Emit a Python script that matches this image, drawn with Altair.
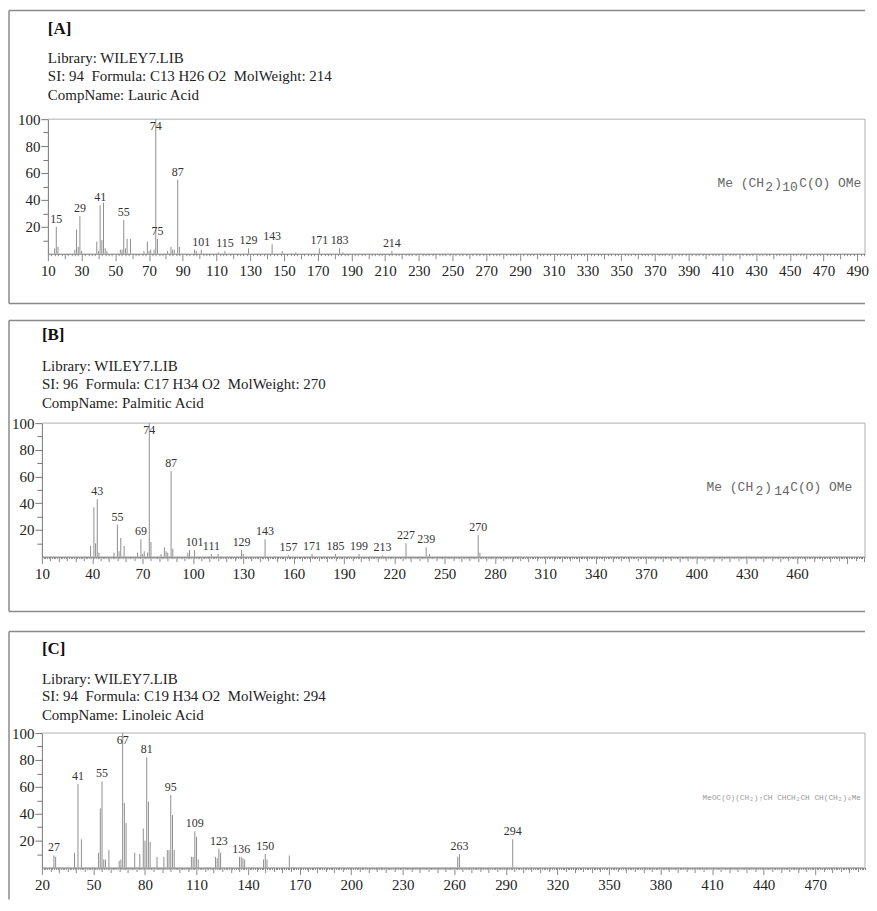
import altair as alt
import pandas as pd

# ---------------- data ----------------
A_MZ = [14, 15, 16, 26, 27, 28, 29, 30, 39, 40, 41, 42, 43, 44, 45, 53, 54, 55, 56, 57, 59,
        67, 69, 70, 71, 73, 74, 75, 81, 83, 84, 85, 87, 88, 97, 98, 101, 111, 115, 129, 143,
        149, 157, 171, 183, 185, 214]
A_INT = [4, 20, 5, 3, 18, 5, 28, 2, 9, 2, 36, 10, 38, 4, 2, 3, 3, 25, 4, 11, 11,
         2, 9, 2, 3, 3, 100, 11, 2, 5, 3, 3, 55, 5, 3, 2, 3, 1, 2, 4, 7,
         2, 1, 4, 4, 1, 2]
A_LABELS = [15, 29, 41, 55, 74, 75, 87, 101, 115, 129, 143, 171, 183, 214]

B_MZ = [39, 41, 42, 43, 44, 53, 55, 56, 57, 59, 67, 69, 70, 71, 73, 74, 75, 81, 83, 84, 85,
        87, 88, 97, 98, 101, 111, 115, 129, 130, 143, 157, 171, 185, 199, 213, 227, 239, 241,
        270, 271]
B_INT = [8, 37, 10, 43, 3, 3, 24, 4, 14, 8, 3, 13, 2, 4, 3, 100, 11, 2, 7, 4, 3,
         64, 6, 3, 5, 5, 2, 2, 5, 2, 13, 1, 2, 2, 2, 1, 10, 7, 2,
         16, 3]
B_LABELS = [43, 55, 69, 74, 87, 101, 111, 129, 143, 157, 171, 185, 199, 213, 227, 239, 270]

C_MZ = [27, 28, 39, 41, 43, 53, 54, 55, 56, 57, 59, 65, 66, 67, 68, 69, 74, 77, 79, 80, 81,
        82, 83, 87, 91, 93, 94, 95, 96, 97, 107, 108, 109, 110, 111, 121, 122, 123, 124,
        135, 136, 137, 138, 149, 150, 151, 164, 262, 263, 294]
C_INT = [9, 8, 11, 62, 21, 11, 44, 64, 6, 6, 13, 5, 6, 100, 48, 33, 11, 10, 29, 20, 82,
         49, 19, 8, 8, 13, 13, 54, 39, 13, 8, 8, 27, 23, 6, 8, 7, 14, 11,
         8, 8, 7, 6, 6, 10, 6, 9, 8, 10, 21]
C_LABELS = [27, 41, 55, 67, 81, 95, 109, 123, 136, 150, 263, 294]

HEAD_A = ["[A]", "Library: WILEY7.LIB",
          "SI: 94\u00a0 Formula: C13 H26 O2\u00a0 MolWeight: 214", "CompName: Lauric Acid"]
HEAD_B = ["[B]", "Library: WILEY7.LIB",
          "SI: 96\u00a0 Formula: C17 H34 O2\u00a0 MolWeight: 270", "CompName: Palmitic Acid"]
HEAD_C = ["[C]", "Library: WILEY7.LIB",
          "SI: 94\u00a0 Formula: C19 H34 O2\u00a0 MolWeight: 294", "CompName: Linoleic Acid"]

# ---------------- helpers ----------------
SERIF = "Liberation Serif"
MONO = "Liberation Mono"
W = 826
ONE = alt.InlineData(values=[{}])


def txt(t, x, y, size, font=SERIF, weight="normal", color="#222"):
    return alt.Chart(ONE).mark_text(
        text=t, align="left", baseline="middle", font=font, fontSize=size,
        fontWeight=weight, color=color
    ).encode(x=alt.value(x), y=alt.value(y))


def hline(x1, x2, y, color, w):
    return alt.Chart(ONE).mark_rule(color=color, strokeWidth=w).encode(
        x=alt.value(x1), x2=alt.value(x2), y=alt.value(y))


def vline(x, y1, y2, color, w):
    return alt.Chart(ONE).mark_rule(color=color, strokeWidth=w).encode(
        x=alt.value(x), y=alt.value(y1), y2=alt.value(y2))


def panel(mz, inten, labels, dom, xrange, h, yrange, xvals, label_test, tick_conds,
          yoff, frame, closed, heads, head_x, head_y, formula, fsize, fcolor):
    df = pd.DataFrame({"mz": mz, "i": inten})
    xscale = alt.Scale(domain=dom, range=xrange, nice=False, zero=False)
    yscale = alt.Scale(domain=[0, 100], range=yrange, nice=False, zero=False)
    xaxis = alt.Axis(
        values=xvals, labelExpr=f"{label_test} ? datum.label : ''",
        tickSize={"condition": tick_conds, "value": 2},
        labelFlush=False, labelOverlap=False, grid=False, title=None,
        labelFont=SERIF, labelFontSize=15, labelColor="#222",
        tickColor="#8a8a8a", domainColor="#777", labelPadding=3)
    yaxis = alt.Axis(
        values=list(range(10, 101, 10)),
        labelExpr="datum.value % 20 == 0 ? datum.label : ''",
        tickSize={"condition": {"test": "datum.value % 20 == 0", "value": 7}, "value": 5},
        grid=False, title=None, labelFont=SERIF, labelFontSize=15, labelColor="#222",
        tickColor="#777", domainColor="#777", labelPadding=1, offset=yoff)
    bars = alt.Chart(df).mark_rule(color="#8f8f8f", strokeWidth=1).encode(
        x=alt.X("mz:Q", scale=xscale, axis=xaxis),
        y=alt.Y("i:Q", scale=yscale, axis=yaxis),
        y2=alt.datum(0))
    labs = alt.Chart(df).transform_filter(
        alt.FieldOneOfPredicate(field="mz", oneOf=labels)
    ).transform_calculate(ly="min(datum.i, 89)").mark_text(
        dy=-8, font=SERIF, fontSize=12, color="#333"
    ).encode(x=alt.X("mz:Q", scale=xscale, axis=xaxis),
             y=alt.Y("ly:Q", scale=yscale, axis=yaxis), text="mz:Q")

    fl, ft, fr, fb = frame
    layers = [hline(fl, fr, ft, "#8a8a8a", 1.5), vline(fl, ft, fb, "#8a8a8a", 1.5)]
    if closed:
        layers.append(hline(fl, fr, fb, "#8a8a8a", 1.5))
    top = yrange[1]
    layers += [hline(xrange[0], xrange[1], top, "#b0b0b0", 1),
               vline(xrange[1], top, yrange[0], "#b0b0b0", 1)]
    layers += [bars, labs]
    layers.append(txt(heads[0], head_x, head_y[0], 17, weight="bold", color="#111"))
    for t, y in zip(heads[1:], head_y[1:]):
        layers.append(txt(t, head_x, y, 15))
    for t, x, y in formula:
        layers.append(txt(t, x, y, fsize, font=MONO, color=fcolor))
    return alt.layer(*layers).properties(width=W, height=h)


def cond(*pairs):
    return [{"test": t, "value": v} for t, v in pairs]


pA = panel(A_MZ, A_INT, A_LABELS, [10, 494.6], [6, 826], 135, [135, 0],
           list(range(10, 495, 2)), "datum.value % 20 == 10",
           cond(("datum.value % 20 == 10", 7), ("datum.value % 10 == 0", 5)),
           -6, (-33, -109, 826, 185), True, HEAD_A, 6, [-90, -61, -43, -24],
           [("Me (CH", 678, 64), ("2", 726, 68), (")", 735, 64), ("10", 743, 68),
            ("C(O) OMe", 760, 64)], 13, "#666")

pB = panel(B_MZ, B_INT, B_LABELS, [10, 500.5], [0, 826], 134, [134, 0],
           list(range(10, 501, 1)), "(datum.value - 10) % 30 == 0 && datum.value <= 460",
           cond(("(datum.value - 10) % 30 == 0", 7), ("datum.value % 10 == 0", 5),
                ("datum.value % 5 == 0", 4)),
           0, (-33, -103, 826, 189), True, HEAD_B, 0, [-88, -57, -39, -20],
           [("Me (CH", 667, 64), ("2", 716, 68), (")", 725, 64), ("14", 735, 68),
            ("C(O) OMe", 751, 64)], 13, "#666")

pC = panel(C_MZ, C_INT, C_LABELS, [20, 499], [0, 826], 142, [142, 7],
           list(range(20, 500, 1)), "(datum.value - 20) % 30 == 0",
           cond(("(datum.value - 20) % 30 == 0", 7), ("datum.value % 10 == 0", 5),
                ("datum.value % 5 == 0", 4)),
           0, (-33, -95, 826, 174), False, HEAD_C, 0, [-77, -47, -30, -11],
           [("MeOC(O)(CH\u2082)\u2087CH CHCH\u2082CH CH(CH\u2082)\u2084Me", 663, 72)], 7.8, "#9a9a9a")

chart = alt.vconcat(pA, pB, pC, spacing=170, bounds="flush").resolve_scale(
    x="independent", y="independent"
).configure_view(stroke=None).properties(padding=0, background="white")

chart.save("out.html", embed_options={"renderer": "svg", "actions": False})
